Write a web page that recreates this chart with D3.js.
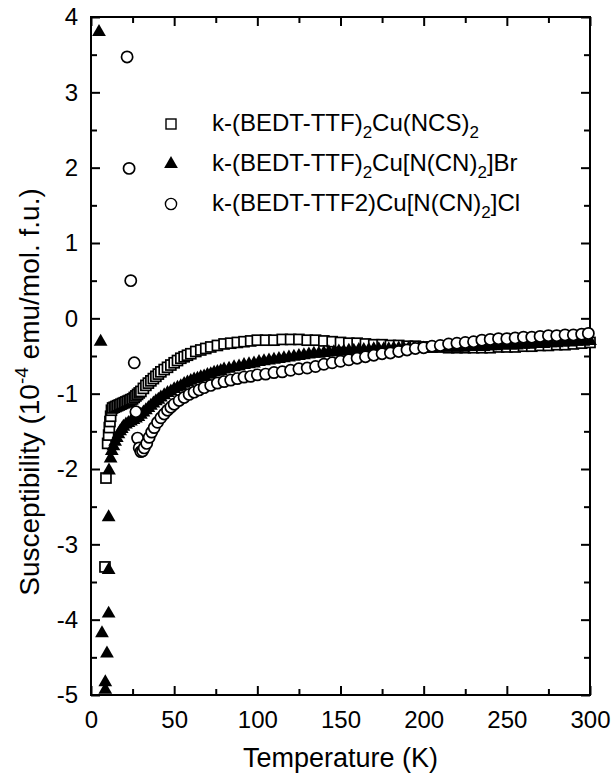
<!DOCTYPE html>
<html>
<head>
<meta charset="utf-8">
<script src="https://cdn.jsdelivr.net/npm/d3@7"></script>
<style>
body { margin: 0; background: #fff; }
text { font-family: Arial, 'Liberation Sans', sans-serif; fill: #000; }
</style>
</head>
<body>
<div id="chart"></div>
<script>
var width = 616
var height = 777
var plotLeft = 91, plotRight = 590, plotTop = 17, plotBottom = 695

// temperature (K), susceptibility (10^-4 emu/mol f.u.)
var ncsData = [
    [8.4, -3.30], [9.0, -2.12], [10.0, -1.66], [10.6, -1.55], [11.0, -1.45], [11.4, -1.37], [11.8, -1.30], [12.3, -1.22],
    [13, -1.19], [14, -1.18], [15, -1.17], [16, -1.16], [17, -1.15], [18, -1.14], [19, -1.13], [20, -1.12], [21, -1.11],
    [22, -1.10], [23, -1.09], [24, -1.08], [25, -1.07], [26, -1.05], [27, -1.03], [28, -1.01], [29, -0.99], [30, -0.97],
    [31.5, -0.93], [33, -0.89], [34.5, -0.86], [36, -0.83], [37.5, -0.80], [39, -0.77], [40.5, -0.74], [42, -0.71],
    [44, -0.68], [46, -0.65], [48, -0.62], [50, -0.59], [52, -0.56], [54, -0.53], [56, -0.51], [58, -0.49], [60, -0.47],
    [63, -0.44], [66, -0.42], [69, -0.40], [72, -0.38], [76, -0.36], [80, -0.34], [84, -0.33], [88, -0.32], [92, -0.31],
    [96, -0.30], [100, -0.29], [105, -0.29], [110, -0.29], [115, -0.28], [120, -0.28], [125, -0.28], [130, -0.29],
    [135, -0.29], [140, -0.30], [145, -0.31], [150, -0.32], [155, -0.33], [160, -0.33], [165, -0.34], [170, -0.35],
    [175, -0.35], [180, -0.36], [185, -0.36], [190, -0.37], [195, -0.37], [200, -0.38], [205, -0.38], [210, -0.38],
    [215, -0.39], [220, -0.39], [225, -0.39], [230, -0.39], [235, -0.39], [240, -0.39], [245, -0.38], [250, -0.38],
    [255, -0.38], [260, -0.37], [265, -0.37], [270, -0.36], [275, -0.36], [280, -0.35], [285, -0.35], [290, -0.34],
    [295, -0.33], [300, -0.32]
]

var brData = [
    [4.8, 3.80], [5.8, -0.31], [6.6, -4.18], [8.6, -4.83], [8.6, -4.93], [9.6, -4.45], [10.6, -3.92], [10.6, -3.34],
    [10.6, -2.64], [10.8, -2.02], [11.8, -1.86],
    [12.5, -1.76], [13.5, -1.70], [14.5, -1.64], [15.5, -1.59], [16.5, -1.54], [17.5, -1.50], [18.5, -1.47], [19.5, -1.44],
    [21, -1.41], [22.5, -1.39], [24, -1.37], [25.5, -1.35], [27, -1.33], [28.5, -1.31], [30, -1.28], [31.5, -1.25],
    [33, -1.22], [34.5, -1.19], [36, -1.16], [37.5, -1.13], [39, -1.10], [40.5, -1.08], [42, -1.05], [44, -1.02],
    [46, -0.99], [48, -0.97], [50, -0.94], [52, -0.92], [54, -0.90], [56, -0.87], [58, -0.85], [60, -0.83], [62, -0.81],
    [64, -0.80], [66, -0.78], [68, -0.77], [70, -0.75], [72, -0.74], [74, -0.72], [76, -0.71], [78, -0.70], [80, -0.68],
    [83, -0.67], [86, -0.65], [89, -0.64], [92, -0.62], [95, -0.61], [98, -0.60], [101, -0.58], [104, -0.57], [107, -0.56],
    [110, -0.55], [113, -0.54], [116, -0.53], [119, -0.52], [122, -0.51], [125, -0.50], [128, -0.49], [131, -0.48],
    [134, -0.47], [137, -0.47], [140, -0.46], [143, -0.45], [146, -0.45], [149, -0.44], [152, -0.44], [155, -0.43],
    [158, -0.43], [161, -0.42], [164, -0.42], [167, -0.42], [170, -0.41], [173, -0.41], [176, -0.41], [179, -0.41],
    [182, -0.40], [185, -0.40], [188, -0.40], [191, -0.40], [194, -0.40], [197, -0.40], [200, -0.40], [204, -0.40],
    [208, -0.40], [212, -0.39], [216, -0.39], [220, -0.39], [224, -0.39], [228, -0.38], [232, -0.38], [236, -0.38],
    [240, -0.37], [244, -0.37], [248, -0.36], [252, -0.36], [256, -0.36], [260, -0.35], [264, -0.35], [268, -0.34],
    [272, -0.34], [276, -0.33], [280, -0.33], [284, -0.32], [288, -0.32], [292, -0.31], [296, -0.31], [300, -0.30]
]

var clData = [
    [21.7, 3.47], [22.9, 1.99], [23.9, 0.50], [26, -0.59], [27, -1.24], [28, -1.59], [29, -1.72], [30, -1.77],
    [31, -1.76], [32, -1.72], [33.5, -1.66], [35, -1.58], [36.5, -1.51], [38, -1.45], [40, -1.38], [42, -1.32],
    [44, -1.27], [46, -1.22], [48, -1.18], [50, -1.14], [53, -1.09], [56, -1.05], [59, -1.01], [62, -0.98], [65, -0.95],
    [68, -0.92], [72, -0.89], [76, -0.86], [80, -0.84], [84, -0.82], [88, -0.80], [92, -0.78], [96, -0.77], [100, -0.75],
    [105, -0.74], [110, -0.72], [115, -0.71], [120, -0.69], [125, -0.67], [130, -0.66], [135, -0.64], [140, -0.61],
    [145, -0.59], [150, -0.57], [155, -0.55], [160, -0.53], [165, -0.51], [170, -0.49], [175, -0.47], [180, -0.46],
    [185, -0.44], [190, -0.42], [195, -0.40], [200, -0.39], [205, -0.37], [210, -0.36], [215, -0.34], [220, -0.33],
    [225, -0.32], [230, -0.31], [235, -0.29], [240, -0.28], [245, -0.27], [250, -0.27], [255, -0.26], [260, -0.25],
    [265, -0.25], [270, -0.24], [275, -0.23], [280, -0.23], [285, -0.22], [290, -0.22], [295, -0.21], [299, -0.20]
]

var xTicks = [0, 50, 100, 150, 200, 250, 300]
var xMinor = [25, 75, 125, 175, 225, 275]
var yTicks = [-5, -4, -3, -2, -1, 0, 1, 2, 3, 4]
var yMinor = [-4.5, -3.5, -2.5, -1.5, -0.5, 0.5, 1.5, 2.5, 3.5]

var svg = d3.select('#chart')
    .append('svg')
    .attr('width', width)
    .attr('height', height)

var xScale = d3.scaleLinear().domain([0, 300]).range([plotLeft, plotRight])
var yScale = d3.scaleLinear().domain([-5, 4]).range([plotBottom, plotTop])

var fmt = (d) => String(d)

function styleAxis(g) {
    g.select('.domain').remove()
    g.selectAll('line').attr('stroke', '#000').attr('stroke-width', 2)
    g.selectAll('text').attr('font-size', 24).attr('font-family', 'Arial, Liberation Sans, sans-serif')
}

// bottom / left with labels, top / right ticks only
svg.append('g').attr('transform', 'translate(0,' + plotBottom + ')')
    .call(d3.axisBottom(xScale).tickValues(xTicks).tickSize(-9).tickPadding(16).tickFormat(fmt))
    .call(styleAxis)
svg.append('g').attr('transform', 'translate(0,' + plotBottom + ')')
    .call(d3.axisBottom(xScale).tickValues(xMinor).tickSize(-6).tickFormat(''))
    .call(styleAxis)
svg.append('g').attr('transform', 'translate(0,' + plotTop + ')')
    .call(d3.axisTop(xScale).tickValues(xTicks).tickSize(-9).tickFormat(''))
    .call(styleAxis)
svg.append('g').attr('transform', 'translate(0,' + plotTop + ')')
    .call(d3.axisTop(xScale).tickValues(xMinor).tickSize(-6).tickFormat(''))
    .call(styleAxis)

svg.append('g').attr('transform', 'translate(' + plotLeft + ',0)')
    .call(d3.axisLeft(yScale).tickValues(yTicks).tickSize(-9).tickPadding(13).tickFormat(fmt))
    .call(styleAxis)
svg.append('g').attr('transform', 'translate(' + plotLeft + ',0)')
    .call(d3.axisLeft(yScale).tickValues(yMinor).tickSize(-6).tickFormat(''))
    .call(styleAxis)
svg.append('g').attr('transform', 'translate(' + plotRight + ',0)')
    .call(d3.axisRight(yScale).tickValues(yTicks).tickSize(-9).tickFormat(''))
    .call(styleAxis)
svg.append('g').attr('transform', 'translate(' + plotRight + ',0)')
    .call(d3.axisRight(yScale).tickValues(yMinor).tickSize(-6).tickFormat(''))
    .call(styleAxis)

svg.append('rect')
    .attr('x', plotLeft)
    .attr('y', plotTop)
    .attr('width', plotRight - plotLeft)
    .attr('height', plotBottom - plotTop)
    .attr('fill', 'none')
    .attr('stroke', '#000')
    .attr('stroke-width', 2)

// markers
var sq = 10
var circR = 5.6
var markStroke = 1.7
var triangle = d3.symbol().type(d3.symbolTriangle).size(82)

svg.append('g').selectAll('rect')
    .data(ncsData)
    .enter()
    .append('rect')
    .attr('x', (d) => xScale(d[0]) - sq / 2)
    .attr('y', (d) => yScale(d[1]) - sq / 2)
    .attr('width', sq)
    .attr('height', sq)
    .attr('fill', '#fff')
    .attr('stroke', '#000')
    .attr('stroke-width', markStroke)

svg.append('g').selectAll('path')
    .data(brData)
    .enter()
    .append('path')
    .attr('d', triangle)
    .attr('transform', (d) => 'translate(' + xScale(d[0]) + ',' + yScale(d[1]) + ')')
    .attr('fill', '#000')

svg.append('g').selectAll('circle')
    .data(clData)
    .enter()
    .append('circle')
    .attr('cx', (d) => xScale(d[0]))
    .attr('cy', (d) => yScale(d[1]))
    .attr('r', circR)
    .attr('fill', '#fff')
    .attr('stroke', '#000')
    .attr('stroke-width', markStroke)

// legend
var legend = svg.append('g')
legend.append('rect').attr('x', 171 - sq / 2).attr('y', 124 - sq / 2).attr('width', sq).attr('height', sq)
    .attr('fill', '#fff').attr('stroke', '#000').attr('stroke-width', 1.4)
legend.append('path').attr('d', triangle).attr('transform', 'translate(171,164)').attr('fill', '#000')
legend.append('circle').attr('cx', 171).attr('cy', 204).attr('r', circR)
    .attr('fill', '#fff').attr('stroke', '#000').attr('stroke-width', 1.4)

function legendText(y, parts) {
    var t = legend.append('text').attr('x', 212).attr('y', y).attr('font-size', 24)
    var shift = 0
    parts.forEach(function (p) {
        var s = p[1] ? 7 : 0
        var span = t.append('tspan').attr('dy', s - shift).text(p[0])
        if (p[1]) span.attr('font-size', 17)
        shift = s
    })
}

legendText(131, [['k-(BEDT-TTF)'], ['2', 1], ['Cu(NCS)'], ['2', 1]])
legendText(171, [['k-(BEDT-TTF)'], ['2', 1], ['Cu[N(CN)'], ['2', 1], [']Br']])
legendText(211, [['k-(BEDT-TTF2)Cu[N(CN)'], ['2', 1], [']Cl']])

// axis titles
svg.append('text')
    .attr('x', (plotLeft + plotRight) / 2)
    .attr('y', 767)
    .attr('text-anchor', 'middle')
    .attr('font-size', 27)
    .text('Temperature (K)')

var ytitle = svg.append('text')
    .attr('transform', 'translate(39,392)rotate(-90)')
    .attr('text-anchor', 'middle')
    .attr('font-size', 28)
ytitle.append('tspan').text('Susceptibility (10')
ytitle.append('tspan').attr('dy', -11).attr('font-size', 19).text('-4')
ytitle.append('tspan').attr('dy', 11).text(' emu/mol. f.u.)')
</script>
</body>
</html>
